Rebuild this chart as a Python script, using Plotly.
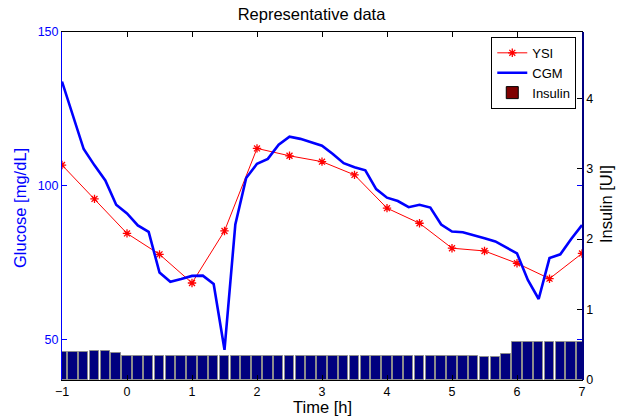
import plotly.graph_objects as go

# ---- data ----
cgm_time = [-1 + k / 6 for k in range(49)]
cgm_glucose = [133.9, 123.0, 112.0, 106.7, 101.8, 93.9, 91.1, 87.2, 85.1, 71.9,
               68.9, 69.8, 70.8, 70.9, 68.2, 46.8, 87.5, 102.6, 107.2, 108.8,
               113.4, 116.0, 115.3, 114.2, 113.1, 110.4, 107.4, 106.1, 105.1, 99.0,
               96.2, 95.1, 93.1, 93.9, 93.0, 87.5, 85.2, 85.0, 84.1, 83.0,
               82.0, 80.1, 78.1, 69.5, 63.3, 76.6, 77.8, 82.8, 87.3]

ysi_time = [-1, -0.5, 0, 0.5, 1, 1.5, 2, 2.5, 3, 3.5, 4, 4.5, 5, 5.5, 6, 6.5, 7]
ysi_glucose = [106.8, 95.8, 84.6, 77.8, 68.5, 85.4, 112.2, 109.8, 107.9, 103.6,
               92.8, 87.9, 79.8, 78.9, 74.9, 69.9, 78.1]

insulin_time = [-1 + k / 6 for k in range(49)]
insulin_units = [0.40, 0.40, 0.40, 0.414, 0.414, 0.386] + [0.336] * 33 + \
                [0.32, 0.32, 0.376] + [0.54] * 7

x_ticks = [-1, 0, 1, 2, 3, 4, 5, 6, 7]
glucose_ticks = [50, 100, 150]
insulin_ticks = [0, 1, 2, 3, 4]

FONT = "Liberation Sans, Arial, sans-serif"

fig = go.Figure()
fig.add_trace(go.Scatter(
    x=ysi_time, y=ysi_glucose, name="YSI", mode="lines+markers",
    line=dict(color="#FF0000", width=1),
    marker=dict(symbol="asterisk-open", size=7, color="#FF0000",
                line=dict(color="#FF0000", width=1.3)),
    yaxis="y"))
fig.add_trace(go.Scatter(
    x=cgm_time, y=cgm_glucose, name="CGM", mode="lines",
    line=dict(color="#0000FF", width=2.6), yaxis="y"))
fig.add_trace(go.Bar(
    x=insulin_time, y=insulin_units, name="Insulin", showlegend=False,
    width=0.145, marker=dict(color="#00007F", line=dict(color="#8c8c8c", width=1)),
    yaxis="y2"))
# legend entry (MATLAB shows the insulin patch in dark red)
fig.add_trace(go.Bar(
    x=[None], y=[None], name="Insulin",
    marker=dict(color="#7F0000", line=dict(color="#000000", width=1)),
    yaxis="y2"))

W, H = 623, 418
L, R, T, B = 62, 41, 32, 38

fig.update_layout(
    width=W, height=H,
    margin=dict(l=L, r=R, t=T, b=B, autoexpand=False),
    paper_bgcolor="white", plot_bgcolor="white",
    font=dict(family=FONT, size=12, color="black"),
    title=dict(text="Representative data", x=0.5, xanchor="center",
               y=1 - 14 / H, yanchor="middle", font=dict(size=16.5, color="black")),
    bargap=0, barmode="overlay",
    showlegend=True,
    legend=dict(x=0.989, xanchor="right", y=0.986, yanchor="top",
                bgcolor="white", bordercolor="black", borderwidth=1,
                font=dict(size=13, color="black"), tracegroupgap=0,
                itemwidth=30),
    xaxis=dict(range=[-1, 7], tickvals=x_ticks, ticks="inside", ticklen=5,
               tickcolor="black", showline=True, linecolor="black", linewidth=1,
               mirror="ticks", showgrid=False, zeroline=False, automargin=False,
               tickfont=dict(size=12.5, color="black")),
    yaxis=dict(range=[37, 150], tickvals=glucose_ticks, ticks="inside", ticklen=5,
               tickcolor="#0000FF", showline=True, linecolor="#0000FF", linewidth=1,
               mirror="ticks", showgrid=False, zeroline=False, automargin=False,
               tickfont=dict(size=12.5, color="#0000FF")),
    yaxis2=dict(range=[0, 4.94], tickvals=insulin_ticks, ticks="inside", ticklen=5,
                tickcolor="black", showline=True, linecolor="#000080", linewidth=1.5,
                overlaying="y", side="right", showgrid=False, zeroline=False,
                automargin=False, tickfont=dict(size=12.5, color="black")),
    annotations=[
        dict(text="Time [h]", xref="paper", yref="paper", x=0.5,
             y=-(407 - (H - B)) / (H - T - B), xanchor="center", yanchor="middle",
             showarrow=False, font=dict(size=16.5, color="black")),
        dict(text="Glucose [mg/dL]", xref="paper", yref="paper",
             x=(20 - L) / (W - L - R), y=(H - B - 208) / (H - T - B),
             xanchor="center", yanchor="middle", textangle=-90,
             showarrow=False, font=dict(size=16.5, color="#0000FF")),
        dict(text="Insulin [UI]", xref="paper", yref="paper",
             x=(606 - L) / (W - L - R), y=(H - B - 204) / (H - T - B),
             xanchor="center", yanchor="middle", textangle=-90,
             showarrow=False, font=dict(size=16.5, color="black")),
    ],
)

fig.write_html("out.html",
               config={"displayModeBar": False},
               post_script="document.body.style.margin='0px';"
                           "document.body.style.overflow='hidden';")
